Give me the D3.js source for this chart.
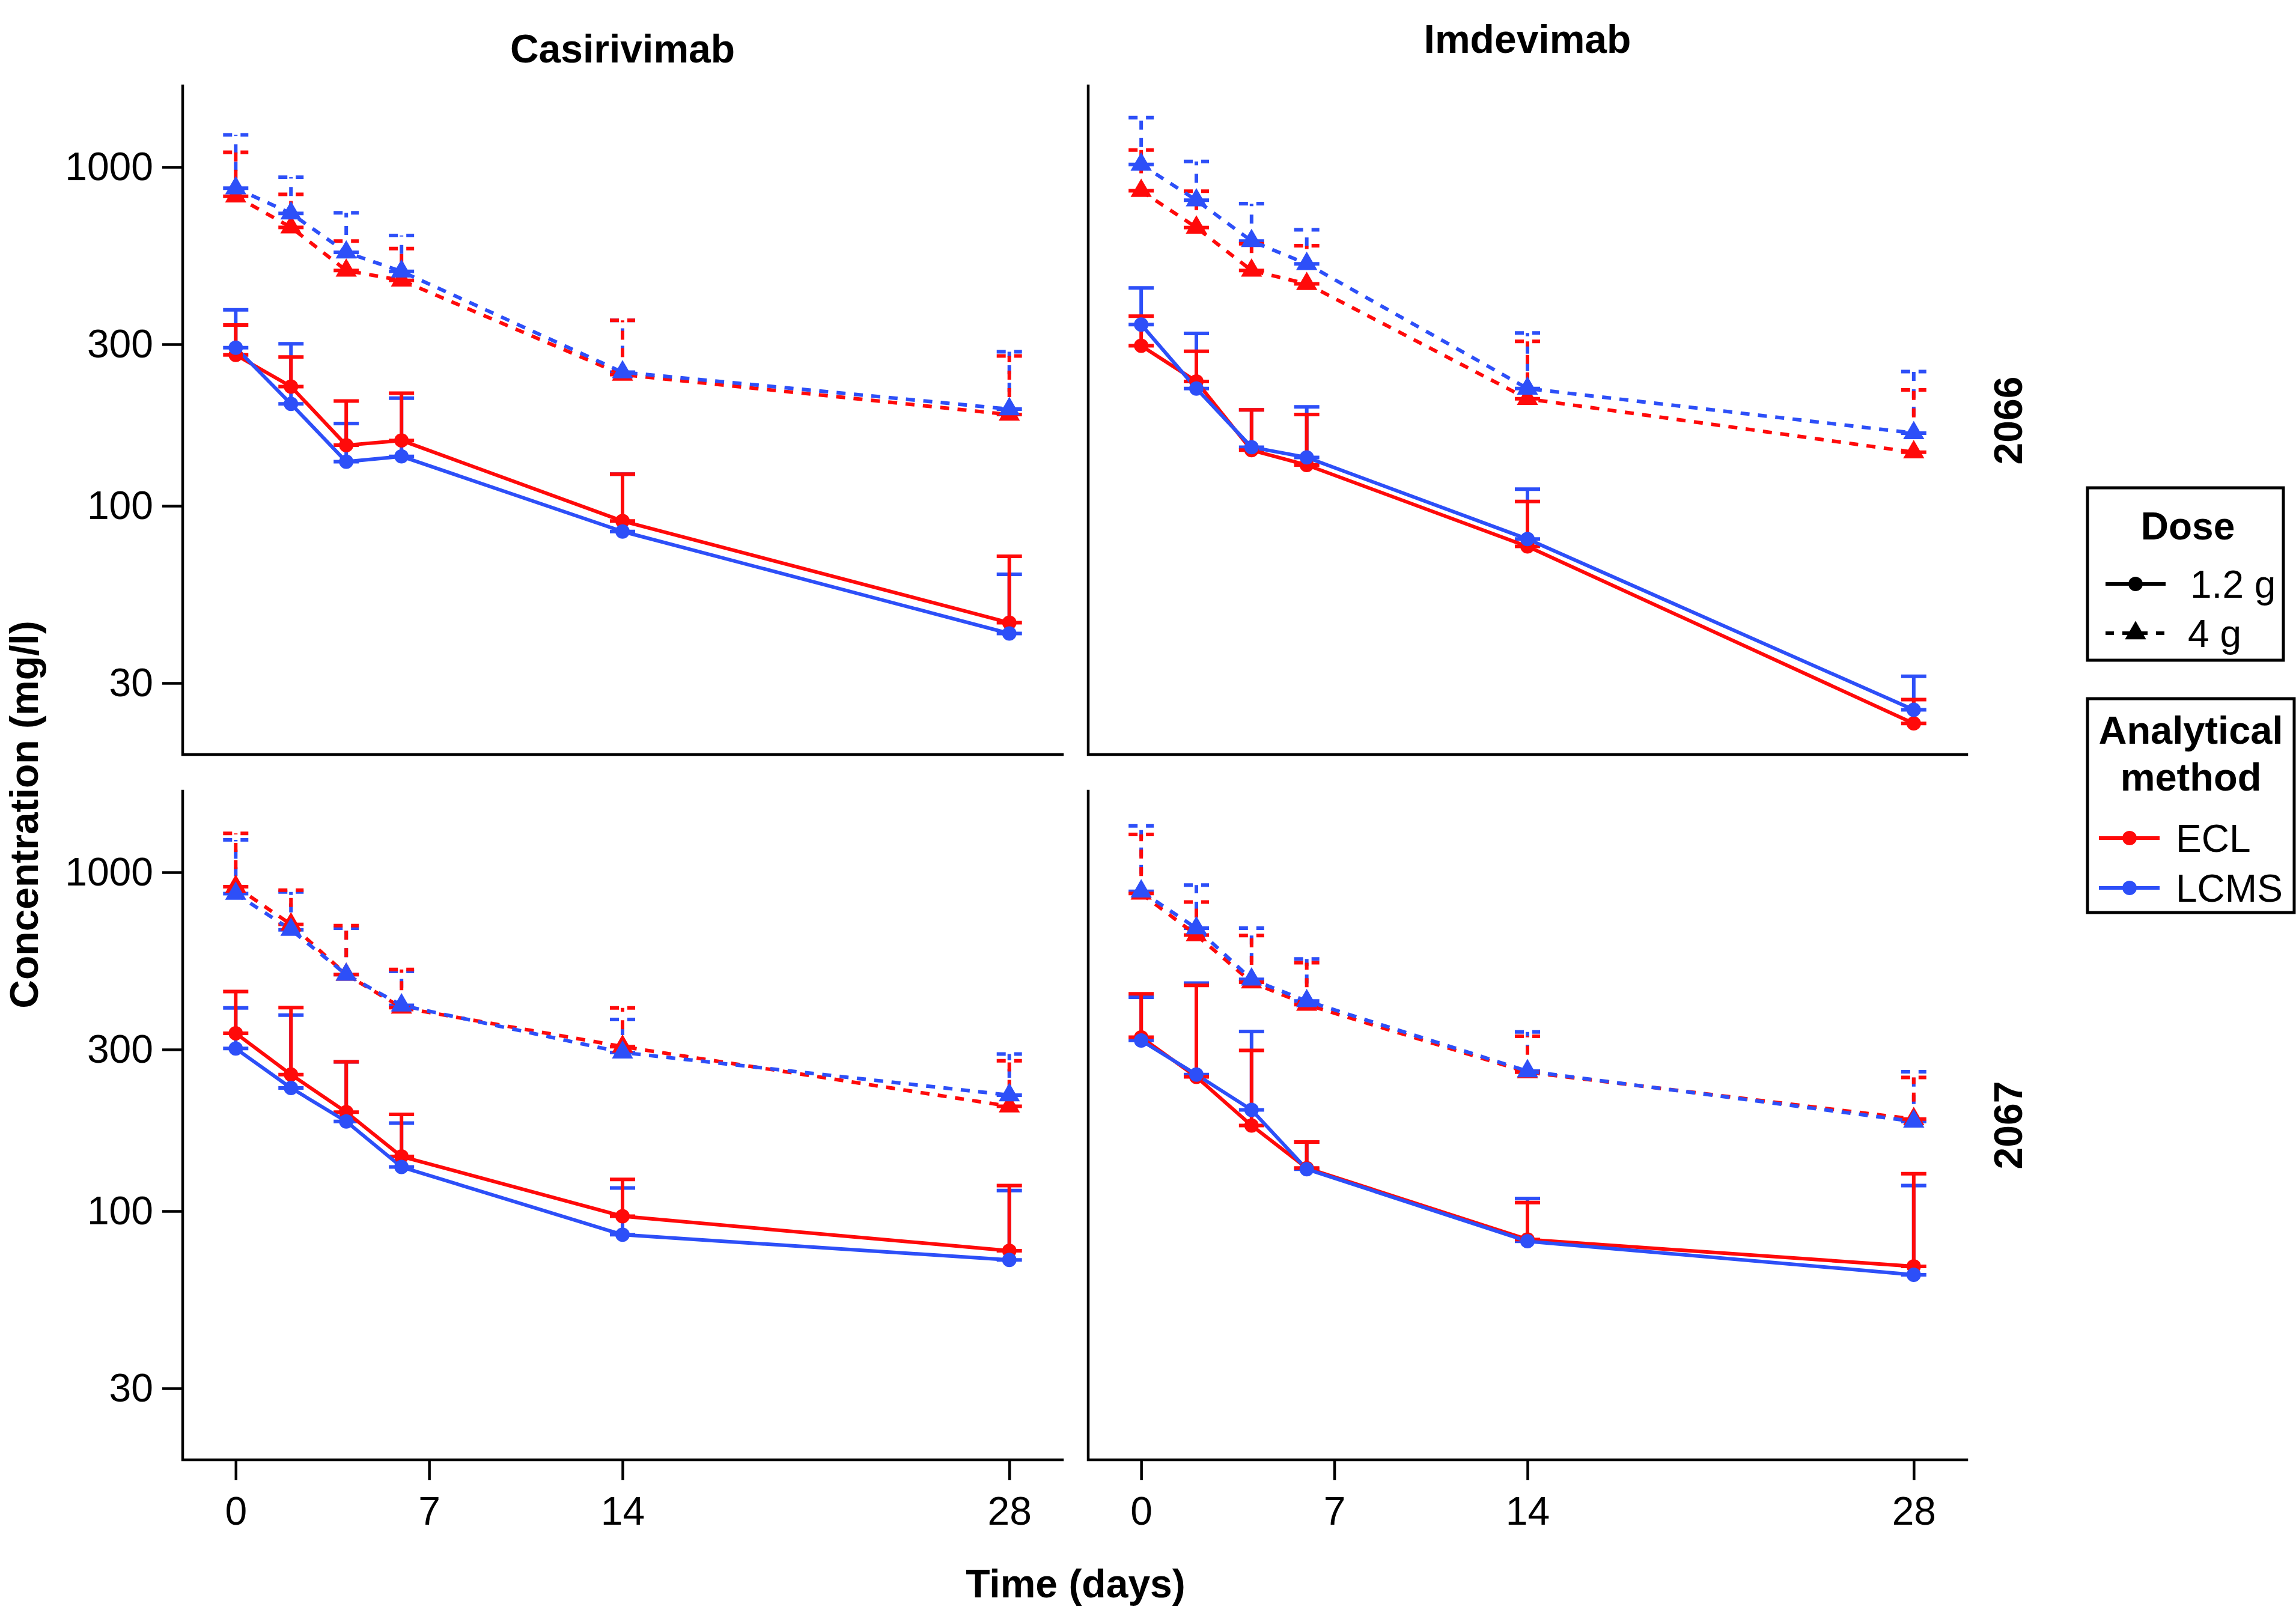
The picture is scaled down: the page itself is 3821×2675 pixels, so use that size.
<!DOCTYPE html>
<html><head><meta charset="utf-8">
<script src="https://cdn.jsdelivr.net/npm/d3@7"></script>
<style>
body{margin:0;background:#fff}
svg{display:block}
text{font-family:"Liberation Sans",Arial,Helvetica,sans-serif;fill:#000}
</style>
</head><body>
<svg id="chart" width="3821" height="2675"></svg>
<script>
// ---------------- data ----------------
const days = [0, 2, 4, 6, 14, 28];
const xTicks = [0, 7, 14, 28];
const yTicks = [30, 100, 300, 1000];
const drugs = ["Casirivimab", "Imdevimab"];
const subjects = ["2066", "2067"];
const methods = ["ECL", "LCMS"];
const doses = ["1.2 g", "4 g"];

// Casirivimab – subject 2066
const cas2066_ECL_1_2g        = [279, 225, 151, 156, 90.2, 45.2];
const cas2066_ECL_1_2g_upper  = [342, 275, 204, 215, 124, 71];
const cas2066_LCMS_1_2g       = [293, 200, 135, 140, 84, 42];
const cas2066_LCMS_1_2g_upper = [379, 301, 175, 208, 124, 62.8];
const cas2066_ECL_4g          = [820, 664, 495, 463, 244, 186];
const cas2066_ECL_4g_upper    = [1106, 831, 605, 575, 353, 277];
const cas2066_LCMS_4g         = [866, 730, 560, 492, 248, 193];
const cas2066_LCMS_4g_upper   = [1245, 933, 733, 628, 353, 285];

// Imdevimab – subject 2066
const imd2066_ECL_1_2g        = [297, 233, 146, 132, 75.9, 22.8];
const imd2066_ECL_1_2g_upper  = [363, 286, 192, 186, 103, 26.8];
const imd2066_LCMS_1_2g       = [343, 222, 149, 139, 79.8, 25.0];
const imd2066_LCMS_1_2g_upper = [440, 323, 192, 196, 112, 31.4];
const imd2066_ECL_4g          = [851, 663, 495, 452, 207, 144];
const imd2066_ECL_4g_upper    = [1123, 849, 594, 586, 306, 220];
const imd2066_LCMS_4g         = [1018, 798, 605, 518, 222, 164];
const imd2066_LCMS_4g_upper   = [1399, 1039, 780, 653, 324, 249];

// Casirivimab – subject 2067
const cas2067_ECL_1_2g        = [335, 253, 196, 145, 96.6, 76.4];
const cas2067_ECL_1_2g_upper  = [445, 399, 276, 193, 124, 119];
const cas2067_LCMS_1_2g       = [302, 231, 184, 135, 85.2, 71.8];
const cas2067_LCMS_1_2g_upper = [398, 379, 276, 182, 117, 115];
const cas2067_ECL_4g          = [907, 702, 499, 399, 306, 204];
const cas2067_ECL_4g_upper    = [1303, 886, 696, 517, 398, 278];
const cas2067_LCMS_4g         = [865, 677, 499, 405, 294, 220];
const cas2067_LCMS_4g_upper   = [1247, 875, 684, 510, 368, 291];

// Imdevimab – subject 2067
const imd2067_ECL_1_2g        = [326, 249, 179, 134, 82.5, 68.7];
const imd2067_ECL_1_2g_upper  = [438, 464, 298, 160, 106, 129];
const imd2067_LCMS_1_2g       = [319, 253, 199, 133, 81.5, 64.9];
const imd2067_LCMS_1_2g_upper = [428, 471, 339, 160, 109, 119];
const imd2067_ECL_4g          = [866, 653, 474, 407, 257, 187];
const imd2067_ECL_4g_upper    = [1294, 817, 651, 541, 328, 248];
const imd2067_LCMS_4g         = [879, 684, 483, 417, 259, 184];
const imd2067_LCMS_4g_upper   = [1371, 917, 684, 555, 338, 258];

// ---------------- assembly ----------------
const series = [
  // drug, subject, method, dose, mean, upper
  [0, 0, "ECL", "1.2 g", cas2066_ECL_1_2g, cas2066_ECL_1_2g_upper],
  [0, 0, "LCMS", "1.2 g", cas2066_LCMS_1_2g, cas2066_LCMS_1_2g_upper],
  [0, 0, "ECL", "4 g", cas2066_ECL_4g, cas2066_ECL_4g_upper],
  [0, 0, "LCMS", "4 g", cas2066_LCMS_4g, cas2066_LCMS_4g_upper],
  [1, 0, "ECL", "1.2 g", imd2066_ECL_1_2g, imd2066_ECL_1_2g_upper],
  [1, 0, "LCMS", "1.2 g", imd2066_LCMS_1_2g, imd2066_LCMS_1_2g_upper],
  [1, 0, "ECL", "4 g", imd2066_ECL_4g, imd2066_ECL_4g_upper],
  [1, 0, "LCMS", "4 g", imd2066_LCMS_4g, imd2066_LCMS_4g_upper],
  [0, 1, "ECL", "1.2 g", cas2067_ECL_1_2g, cas2067_ECL_1_2g_upper],
  [0, 1, "LCMS", "1.2 g", cas2067_LCMS_1_2g, cas2067_LCMS_1_2g_upper],
  [0, 1, "ECL", "4 g", cas2067_ECL_4g, cas2067_ECL_4g_upper],
  [0, 1, "LCMS", "4 g", cas2067_LCMS_4g, cas2067_LCMS_4g_upper],
  [1, 1, "ECL", "1.2 g", imd2067_ECL_1_2g, imd2067_ECL_1_2g_upper],
  [1, 1, "LCMS", "1.2 g", imd2067_LCMS_1_2g, imd2067_LCMS_1_2g_upper],
  [1, 1, "ECL", "4 g", imd2067_ECL_4g, imd2067_ECL_4g_upper],
  [1, 1, "LCMS", "4 g", imd2067_LCMS_4g, imd2067_LCMS_4g_upper]
].map(([d, s, m, dose, mean, upper]) => ({
  drug: d, subj: s, method: m, dose: dose,
  pts: days.map((t, i) => ({t: t, v: mean[i], u: upper[i]}))
}));

// ---------------- styling / layout ----------------
const colour = d3.scaleOrdinal().domain(methods).range(["#FF0A0A", "#2D4FF8"]);
const dashOf = dose => dose === "4 g" ? "15,14" : null;
const LW = 6;

const svg = d3.select("#chart");
const colX = [[304, 1768], [1811, 3273]];
const rowY = [[143, 1256], [1317, 2430]];
const yDomain = [18.45, 1736];
const xDomain = [-1.92, 29.92];

const circleSym = d3.symbol().type(d3.symbolCircle).size(450);
const triSym = d3.symbol().type(d3.symbolTriangle).size(540);

for (let r = 0; r < 2; r++) {
  for (let c = 0; c < 2; c++) {
    const x = d3.scaleLinear().domain(xDomain).range(colX[c]);
    const y = d3.scaleLog().domain(yDomain).range([rowY[r][1], rowY[r][0]]);
    const g = svg.append("g");

    // axis lines
    g.append("path")
      .attr("d", `M${colX[c][0]},${rowY[r][0]}V${rowY[r][1]}H${colX[c][1]}`)
      .attr("fill", "none").attr("stroke", "#000").attr("stroke-width", 4.5)
      .attr("stroke-linecap", "square");

    // y ticks (left column only)
    if (c === 0) {
      const yAxis = d3.axisLeft(y).tickValues(yTicks).tickFormat(d3.format("d"))
        .tickSize(34).tickPadding(15);
      const ga = g.append("g").attr("transform", `translate(${colX[c][0]},0)`).call(yAxis);
      ga.select(".domain").remove();
      ga.selectAll(".tick line").attr("stroke", "#000").attr("stroke-width", 4.5);
      ga.selectAll(".tick text").attr("font-size", 66).attr("font-family", "'Liberation Sans',Arial,sans-serif").attr("fill", "#000");
    }
    // x ticks (bottom row only)
    if (r === 1) {
      const xAxis = d3.axisBottom(x).tickValues(xTicks).tickFormat(d3.format("d"))
        .tickSize(34).tickPadding(27);
      const ga = g.append("g").attr("transform", `translate(0,${rowY[r][1]})`).call(xAxis);
      ga.select(".domain").remove();
      ga.selectAll(".tick line").attr("stroke", "#000").attr("stroke-width", 4.5);
      ga.selectAll(".tick text").attr("font-size", 66).attr("font-family", "'Liberation Sans',Arial,sans-serif").attr("fill", "#000");
    }

    const ss = series.filter(s => s.drug === c && s.subj === r);
    // error bars: LCMS first, then ECL
    const ebOrder = ss.slice().sort((a, b) => (a.method === "LCMS" ? -1 : 1) - (b.method === "LCMS" ? -1 : 1));
    ebOrder.forEach(s => {
      const eg = g.append("g").attr("stroke", colour(s.method)).attr("stroke-width", LW)
        .attr("fill", "none").attr("stroke-dasharray", dashOf(s.dose));
      s.pts.forEach(p => {
        const px = x(p.t), y0 = y(p.v), y1 = y(p.u);
        eg.append("line").attr("x1", px).attr("x2", px).attr("y1", y0).attr("y2", y1);
        eg.append("line").attr("x1", px - 21).attr("x2", px + 21).attr("y1", y0).attr("y2", y0);
        eg.append("line").attr("x1", px - 21).attr("x2", px + 21).attr("y1", y1).attr("y2", y1);
      });
    });
    // lines & points: ECL then LCMS
    const lineGen = d3.line().x(p => x(p.t)).y(p => y(p.v));
    const lnOrder = ss.slice().sort((a, b) => (a.method === "ECL" ? -1 : 1) - (b.method === "ECL" ? -1 : 1));
    lnOrder.forEach(s => {
      g.append("path").datum(s.pts).attr("d", lineGen)
        .attr("fill", "none").attr("stroke", colour(s.method)).attr("stroke-width", LW)
        .attr("stroke-dasharray", dashOf(s.dose)).attr("stroke-linejoin", "round");
    });
    lnOrder.forEach(s => {
      const sym = s.dose === "4 g" ? triSym : circleSym;
      g.append("g").selectAll("path").data(s.pts).join("path")
        .attr("d", sym).attr("transform", p => `translate(${x(p.t)},${y(p.v)})`)
        .attr("fill", colour(s.method));
    });
  }
}

// titles
svg.append("text").attr("x", 1036).attr("y", 104).attr("text-anchor", "middle")
  .attr("font-size", 66).attr("font-weight", "bold").text(drugs[0]);
svg.append("text").attr("x", 2542).attr("y", 88).attr("text-anchor", "middle")
  .attr("font-size", 66).attr("font-weight", "bold").text(drugs[1]);

// strip labels (read bottom to top)
[[700, subjects[0]], [1873, subjects[1]]].forEach(([cy, t]) => {
  svg.append("text").attr("transform", `translate(3365,${cy}) rotate(-90)`)
    .attr("text-anchor", "middle").attr("font-size", 66).attr("font-weight", "bold").text(t);
});

// axis titles
svg.append("text").attr("transform", "translate(63,1356) rotate(-90)")
  .attr("text-anchor", "middle").attr("font-size", 66).attr("font-weight", "bold")
  .text("Concentration (mg/l)");
svg.append("text").attr("x", 1790).attr("y", 2659).attr("text-anchor", "middle")
  .attr("font-size", 66).attr("font-weight", "bold").text("Time (days)");

// ---------------- legends ----------------
const lg = svg.append("g");
// Dose legend
lg.append("rect").attr("x", 3474).attr("y", 812).attr("width", 326).attr("height", 287)
  .attr("fill", "none").attr("stroke", "#000").attr("stroke-width", 5);
lg.append("text").attr("x", 3641).attr("y", 898).attr("text-anchor", "middle")
  .attr("font-size", 64).attr("font-weight", "bold").text("Dose");
const doseRows = [972, 1054];
doses.forEach((d, i) => {
  const yy = doseRows[i];
  lg.append("line").attr("x1", 3504).attr("x2", 3604).attr("y1", yy).attr("y2", yy)
    .attr("stroke", "#000").attr("stroke-width", LW)
    .attr("stroke-dasharray", d === "4 g" ? "14,14" : null);
  lg.append("path").attr("d", d === "4 g" ? triSym : circleSym)
    .attr("transform", `translate(3554,${yy})`).attr("fill", "#000");
  lg.append("text").attr("x", i === 0 ? 3645 : 3641).attr("y", yy + 23)
    .attr("font-size", 64).text(d);
});
// Method legend
lg.append("rect").attr("x", 3474).attr("y", 1163).attr("width", 344).attr("height", 356)
  .attr("fill", "none").attr("stroke", "#000").attr("stroke-width", 5);
lg.append("text").attr("x", 3646).attr("y", 1238).attr("text-anchor", "middle")
  .attr("font-size", 65).attr("font-weight", "bold").text("Analytical");
lg.append("text").attr("x", 3646).attr("y", 1316).attr("text-anchor", "middle")
  .attr("font-size", 65).attr("font-weight", "bold").text("method");
const mRows = [1395, 1478];
methods.forEach((m, i) => {
  const yy = mRows[i];
  lg.append("line").attr("x1", 3493).attr("x2", 3594).attr("y1", yy).attr("y2", yy)
    .attr("stroke", colour(m)).attr("stroke-width", LW);
  lg.append("path").attr("d", circleSym).attr("transform", `translate(3544,${yy})`)
    .attr("fill", colour(m));
  lg.append("text").attr("x", 3621).attr("y", yy + 23).attr("font-size", 64).text(m);
});
</script>
</body></html>
